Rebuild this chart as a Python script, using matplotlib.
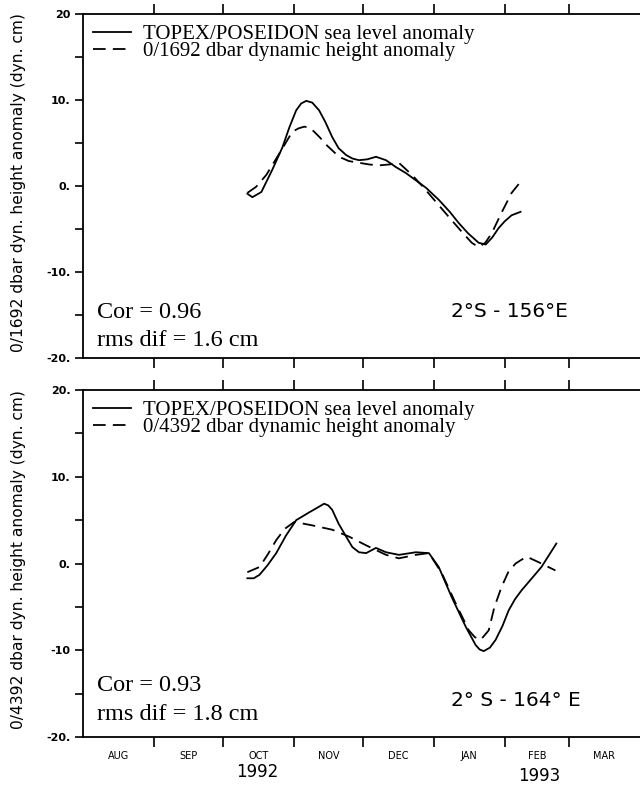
import numpy as np
import matplotlib
matplotlib.use("Agg")
import matplotlib.pyplot as plt
from matplotlib.transforms import blended_transform_factory

# x values are days since 1 Aug 1992
month_names = ['AUG', 'SEP', 'OCT', 'NOV', 'DEC', 'JAN', 'FEB', 'MAR']
month_days = [31, 30, 31, 30, 31, 31, 28, 31]

# top panel, 2S-156E
top_sl_x = [71.7, 73.9, 77.8, 82.6, 87.0, 90.0, 93.0, 95.2, 97.4, 100.0, 103.0, 105.8,
            108.7, 111.5, 114.8, 117.5, 120.4, 124.0, 127.8, 132.2, 136.5, 140.9, 145.0,
            149.6, 155.2, 160.0, 163.9, 168.0, 172.6, 175.7, 178.5, 181.3, 184.0, 187.0, 190.9]
top_sl_y = [-0.9, -1.3, -0.7, 1.9, 4.5, 6.8, 8.8, 9.6, 9.9, 9.7, 8.8, 7.4,
            5.7, 4.4, 3.6, 3.2, 3.0, 3.1, 3.4, 3.0, 2.2, 1.5, 0.7,
            -0.2, -1.6, -3.0, -4.3, -5.5, -6.6, -6.8, -6.0, -4.9, -4.1, -3.4, -3.0]
top_dh_x = [71.7, 75.5, 80.0, 85.7, 91.3, 94.0, 96.5, 98.7, 100.9, 103.5, 106.1, 111.7,
            116.0, 120.4, 125.0, 129.1, 133.5, 137.8, 143.5, 148.0, 152.2, 160.9, 165.5,
            169.6, 172.6, 175.5, 178.3, 182.6, 187.0, 190.9]
top_dh_y = [-0.8, -0.1, 1.3, 3.8, 6.3, 6.7, 6.9, 6.8, 6.3, 5.6, 4.8, 3.4,
            2.9, 2.7, 2.5, 2.4, 2.5, 2.7, 1.3, 0.0, -1.3, -4.0, -5.4,
            -6.6, -7.1, -6.6, -5.5, -3.1, -0.8, 0.5]

# bottom panel, 2S-164E
bot_sl_x = [71.7, 74.5, 77.0, 80.5, 84.3, 88.5, 93.0, 98.7, 102.0, 105.2, 107.0, 108.7,
            111.5, 114.8, 117.5, 120.4, 123.5, 127.8, 132.2, 137.8, 145.2, 150.9, 155.2,
            160.9, 167.0, 171.3, 173.0, 174.8, 177.5, 180.0, 183.0, 185.7, 188.5, 191.3,
            195.5, 200.0, 206.5]
bot_sl_y = [-1.7, -1.7, -1.3, -0.2, 1.2, 3.2, 5.0, 5.9, 6.4, 6.9, 6.7, 6.2,
            4.6, 3.1, 1.9, 1.3, 1.2, 1.8, 1.3, 1.0, 1.3, 1.2, -0.4,
            -3.9, -7.3, -9.4, -9.9, -10.1, -9.7, -8.8, -7.2, -5.4, -4.1, -3.1,
            -1.8, -0.4, 2.3]
bot_dh_x = [71.7, 77.0, 80.5, 84.3, 88.0, 92.2, 100.0, 108.7, 116.1, 123.5, 132.2, 137.8,
            145.2, 150.9, 156.5, 162.6, 168.3, 171.0, 173.5, 177.0, 179.5, 182.6, 185.5,
            188.7, 193.5, 200.0, 206.1]
bot_dh_y = [-1.0, -0.4, 1.0, 2.7, 4.0, 4.8, 4.4, 3.9, 3.1, 2.1, 1.0, 0.6,
            1.0, 1.2, -1.1, -4.6, -7.7, -8.5, -8.8, -7.7, -5.0, -2.7, -1.0,
            0.0, 0.8, 0.0, -0.8]

yticks = [20, 10, 0, -10, -20]
top_ylabels = ['20', '10.', '0.', '-10.', '-20.']
bot_ylabels = ['20.', '10.', '0.', '-10', '-20.']

serif = 'Liberation Serif'
sans = 'DejaVu Sans'

fig = plt.figure(figsize=(6.4, 7.87), dpi=100)
ax1 = fig.add_axes([0.1297, 0.5451, 0.8703, 0.4371])
ax2 = fig.add_axes([0.1297, 0.0635, 0.8703, 0.4409])

edges = np.concatenate([[0], np.cumsum(month_days)])
mids = (edges[:-1] + edges[1:]) / 2.0


def setup(ax, labels, ylab):
    ax.set_xlim(0, edges[-1])
    ax.set_ylim(-20, 20)
    ax.spines['right'].set_visible(False)
    for s in ['left', 'top', 'bottom']:
        ax.spines[s].set_linewidth(1.3)
    ax.set_yticks(yticks)
    ax.set_yticklabels(labels, fontsize=8, fontweight='bold', family=sans)
    ax.set_yticks([15, 5, -5, -15], minor=True)
    ax.tick_params(axis='y', which='both', direction='out', length=6, width=1.2, pad=3)
    ax.set_xticks(edges[1:-1])
    ax.set_xticklabels([])
    ax.tick_params(axis='x', which='major', direction='out', length=7, width=1.2,
                   top=True, bottom=True)
    ax.set_ylabel(ylab, fontsize=11.2, family=sans)
    ax.yaxis.set_label_coords(-0.103, 0.51)


setup(ax1, top_ylabels, '0/1692 dbar dyn. height anomaly (dyn. cm)')
setup(ax2, bot_ylabels, '0/4392 dbar dyn. height anomaly (dyn. cm)')

style = dict(color='black', lw=1.3, solid_joinstyle='round', dash_joinstyle='round')
ax1.plot(top_sl_x, top_sl_y, label='TOPEX/POSEIDON sea level anomaly', **style)
ax1.plot(top_dh_x, top_dh_y, dashes=(7, 4),
         label='0/1692 dbar dynamic height anomaly', **style)
ax2.plot(bot_sl_x, bot_sl_y, label='TOPEX/POSEIDON sea level anomaly', **style)
ax2.plot(bot_dh_x, bot_dh_y, dashes=(7, 4),
         label='0/4392 dbar dynamic height anomaly', **style)

for ax in (ax1, ax2):
    ax.legend(loc='upper left', frameon=False, prop={'family': serif, 'size': 15},
              handlelength=1.8, handletextpad=0.6, labelspacing=-0.12,
              borderaxespad=0.1, bbox_to_anchor=(0.0, 1.0))

ax1.text(0.025, 0.132, 'Cor = 0.96', transform=ax1.transAxes, family=serif,
         fontsize=17.5, va='center')
ax1.text(0.025, 0.052, 'rms dif = 1.6 cm', transform=ax1.transAxes, family=serif,
         fontsize=17.5, va='center')
ax1.text(0.765, 0.135, '2°S - 156°E', transform=ax1.transAxes, family=sans,
         fontsize=14.5, va='center', ha='center')

ax2.text(0.025, 0.148, 'Cor = 0.93', transform=ax2.transAxes, family=serif,
         fontsize=17.5, va='center')
ax2.text(0.025, 0.064, 'rms dif = 1.8 cm', transform=ax2.transAxes, family=serif,
         fontsize=17.5, va='center')
ax2.text(0.777, 0.105, '2° S - 164° E', transform=ax2.transAxes, family=sans,
         fontsize=14.5, va='center', ha='center')

# month labels under the bottom panel
ax2.set_xticks(mids, minor=True)
ax2.set_xticklabels(month_names, minor=True, fontsize=7, family=sans)
ax2.tick_params(axis='x', which='minor', length=0, pad=10)
ax1.set_xticks(mids, minor=True)
ax1.tick_params(axis='x', which='minor', length=0, labelbottom=False)

tr = blended_transform_factory(ax2.transData, ax2.transAxes)
ax2.text(76, -0.1, '1992', transform=tr, fontsize=12, family=sans,
         ha='center', va='center')
ax2.text(199, -0.112, '1993', transform=tr, fontsize=12, family=sans,
         ha='center', va='center')

fig.savefig('out.png', dpi=100)
